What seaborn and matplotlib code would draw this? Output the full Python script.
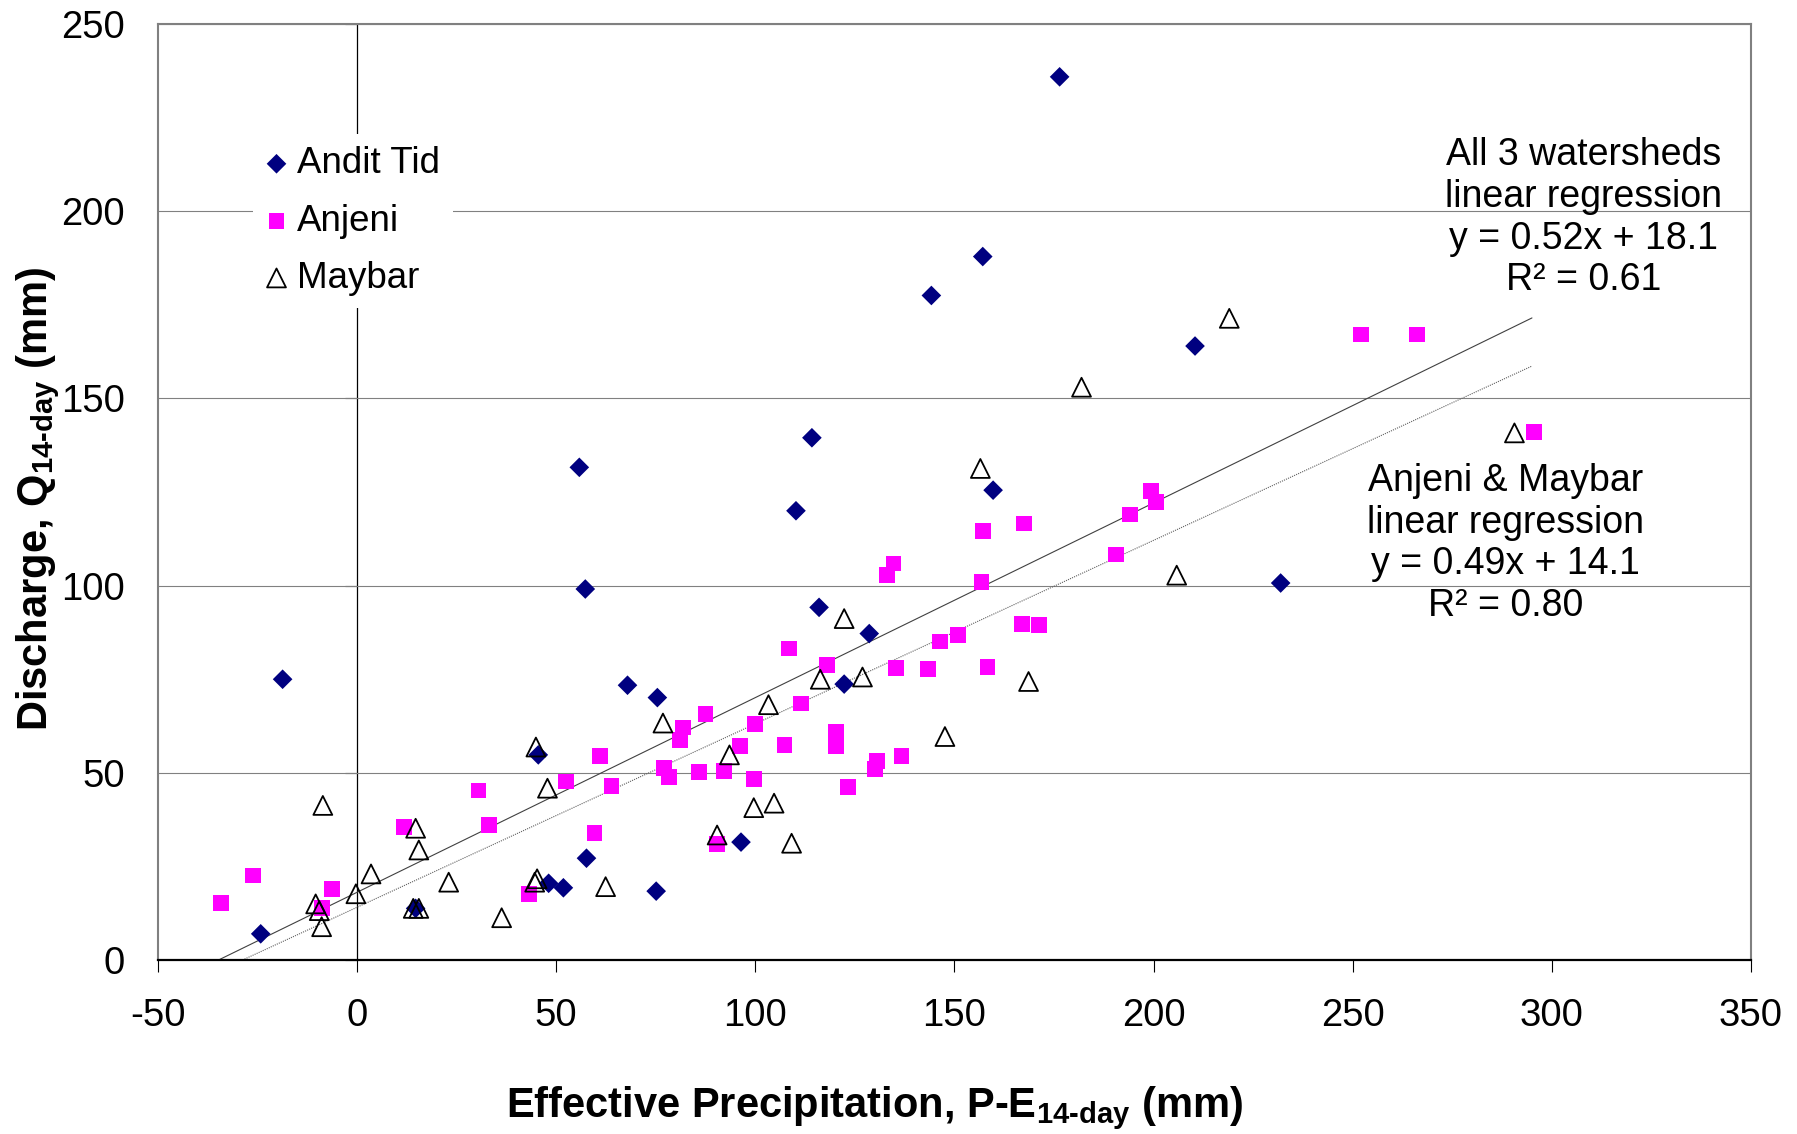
import numpy as np
import pandas as pd
import matplotlib
matplotlib.use("Agg")
import matplotlib.pyplot as plt
import seaborn as sns

# Andit Tid (P-E 14-day, Q 14-day), mm
andit_x = [176.4, 157.1, 144.2, 210.4, 114.2, 55.8, 159.7, 110.2, 231.9, 57.3, 116.0, 128.6,
           -18.7, 67.9, 122.3, 75.4, 45.5, 57.6, 96.4, 48.1, 51.8, 75.1, 14.7, -24.2]
andit_y = [235.9, 187.9, 177.5, 164.0, 139.5, 131.6, 125.5, 120.0, 100.7, 99.1, 94.2, 87.2,
           75.0, 73.4, 73.7, 70.1, 54.8, 27.2, 31.5, 20.5, 19.3, 18.4, 13.8, 7.0]

# Anjeni
anjeni_x = [252.1, 266.2, 295.5, 199.4, 200.6, 194.0, 167.5, 157.1, 190.5, 134.7, 133.0, 156.8,
            171.2, 166.9, 150.8, 146.4, 108.5, 118.0, 135.3, 158.3, 143.3, 111.4, 87.5, 99.9,
            81.9, 81.0, 120.3, 120.3, 96.1, 107.3, 61.0, 136.7, 130.6, 130.1, 77.1, 85.8,
            92.1, 78.4, 99.6, 52.4, 123.2, 63.9, 30.5, 33.1, 11.8, 59.6, 90.4, 43.2,
            -26.2, -6.3, -8.9, -34.2]
anjeni_y = [167.1, 167.1, 141.1, 125.2, 122.4, 119.0, 116.6, 114.7, 108.3, 105.9, 102.8, 101.0,
            89.4, 89.7, 86.9, 85.1, 83.2, 78.9, 78.0, 78.3, 77.7, 68.5, 65.8, 63.0,
            62.1, 58.8, 60.9, 57.2, 57.2, 57.5, 54.5, 54.5, 53.2, 51.1, 51.4, 50.2,
            50.5, 49.0, 48.3, 47.7, 46.2, 46.5, 45.3, 36.1, 35.5, 34.0, 30.9, 17.7,
            22.6, 19.0, 13.8, 15.3]

# Maybar
maybar_x = [219.0, 181.9, 156.5, 290.6, 205.8, 122.3, 116.3, 126.9, 168.6, 103.3, 76.8, 147.6,
            44.9, 93.5, 47.8, -8.6, 104.7, 99.6, 14.7, 15.5, 90.4, 109.1, 3.5, 23.0,
            62.4, 45.2, 44.6, -0.3, -10.4, -9.5, 14.1, 15.5, 36.3, -8.9]
maybar_y = [171.4, 153.0, 131.3, 140.8, 102.8, 91.2, 75.0, 75.6, 74.4, 68.2, 63.3, 59.7,
            56.9, 54.8, 45.9, 41.3, 41.9, 40.7, 35.2, 29.4, 33.4, 31.2, 23.0, 20.8,
            19.6, 21.7, 20.8, 17.7, 15.0, 13.2, 13.8, 13.8, 11.3, 8.9]

x_ticks = [-50, 0, 50, 100, 150, 200, 250, 300, 350]
y_ticks = [0, 50, 100, 150, 200, 250]

# regressions: slope, intercept, R2; lines drawn from y=0 up to fit_x_end
fit_all = (0.52, 18.1, 0.61)
fit_am = (0.49, 14.1, 0.80)
fit_x_end = 295

sns.set_style("white")
plt.rcParams["font.family"] = ["Liberation Sans", "DejaVu Sans"]
plt.rcParams["axes.unicode_minus"] = False
plt.rcParams["mathtext.fontset"] = "custom"
plt.rcParams["mathtext.rm"] = "Liberation Sans:bold"
plt.rcParams["mathtext.it"] = "Liberation Sans:bold"
plt.rcParams["mathtext.bf"] = "Liberation Sans:bold"
for key in ["text.color", "axes.labelcolor", "xtick.color", "ytick.color"]:
    plt.rcParams[key] = "black"

fig = plt.figure(figsize=(17.97, 11.34), dpi=100)
ax = fig.add_axes([0.0879, 0.1534, 0.8865, 0.8254])

andit = pd.DataFrame({"x": andit_x, "y": andit_y})
anjeni = pd.DataFrame({"x": anjeni_x, "y": anjeni_y})
maybar = pd.DataFrame({"x": maybar_x, "y": maybar_y})

sns.scatterplot(data=andit, x="x", y="y", marker="D", s=100, color="#000080",
                edgecolor="none", label="Andit Tid", ax=ax, zorder=3)
sns.scatterplot(data=anjeni, x="x", y="y", marker="s", s=130, color="#FF00FF",
                edgecolor="none", label="Anjeni", ax=ax, zorder=3)
sns.scatterplot(data=maybar, x="x", y="y", marker="^", s=185, color="none",
                edgecolor="black", linewidth=1.3, label="Maybar", ax=ax, zorder=4)

for (a, b, r2), ls, c in [(fit_all, "-", "#404040"), (fit_am, (0, (1, 1)), "#606060")]:
    xs = np.array([-b / a, fit_x_end])
    ax.plot(xs, a * xs + b, color=c, linestyle=ls, lw=0.8, zorder=2)

ax.set_xlim(x_ticks[0], x_ticks[-1])
ax.set_ylim(y_ticks[0], y_ticks[-1])
ax.set_xticks(x_ticks)
ax.set_yticks(y_ticks)
ax.tick_params(axis="x", bottom=True, direction="out", length=8.5, width=0.8,
               color="black", labelcolor="black", pad=19, labelsize=27.5)
ax.tick_params(axis="y", left=False, length=0, pad=24, labelcolor="black", labelsize=27.5)

ax.yaxis.grid(True, color="#808080", lw=0.8)
ax.xaxis.grid(False)
ax.set_axisbelow(True)
for side in ["top", "right", "left"]:
    ax.spines[side].set_color("#808080")
    ax.spines[side].set_linewidth(1.5)
ax.spines["bottom"].set_color("black")
ax.spines["bottom"].set_linewidth(1.6)

# the y axis of the original crosses at x = 0
x0_frac = (0 - x_ticks[0]) / (x_ticks[-1] - x_ticks[0])
sec = ax.secondary_yaxis(x0_frac)
sec.set_yticks(y_ticks)
sec.tick_params(axis="y", direction="out", length=8.4, width=0.8, color="black",
                labelleft=False, labelright=False)
for sp in sec.spines.values():
    sp.set_color("black")
    sp.set_linewidth(0.9)

ax.set_xlabel(r"Effective Precipitation, P-E$_{\text{14-day}}$ (mm)",
              fontsize=30, fontweight="bold", color="black")
ax.set_ylabel(r"Discharge, Q$_{\text{14-day}}$ (mm)", fontsize=30, fontweight="bold",
              color="black")
ax.xaxis.set_label_coords(0.45, -0.133)
ax.yaxis.set_label_coords(-0.060, 0.493)

a, b, r2 = fit_all
ax.text(0.895, 0.793,
        f"All 3 watersheds\nlinear regression\ny = {a:.2f}x + {b:.1f}\nR² = {r2:.2f}",
        transform=ax.transAxes, ha="center", va="center", fontsize=27, linespacing=1.2,
        color="black")
a, b, r2 = fit_am
ax.text(0.846, 0.445,
        f"Anjeni & Maybar\nlinear regression\ny = {a:.2f}x + {b:.1f}\nR² = {r2:.2f}",
        transform=ax.transAxes, ha="center", va="center", fontsize=27, linespacing=1.2,
        color="black")

leg = ax.legend(loc="upper left", bbox_to_anchor=(0.0594, 0.883), frameon=True,
                fancybox=False, framealpha=1, edgecolor="none", facecolor="white",
                fontsize=26.5, handlelength=0.6, handletextpad=0.25, labelspacing=0.6,
                borderpad=0.35, borderaxespad=0)
leg.set_zorder(6)
for t in leg.get_texts():
    t.set_color("black")

fig.savefig("out.png", dpi=100)
